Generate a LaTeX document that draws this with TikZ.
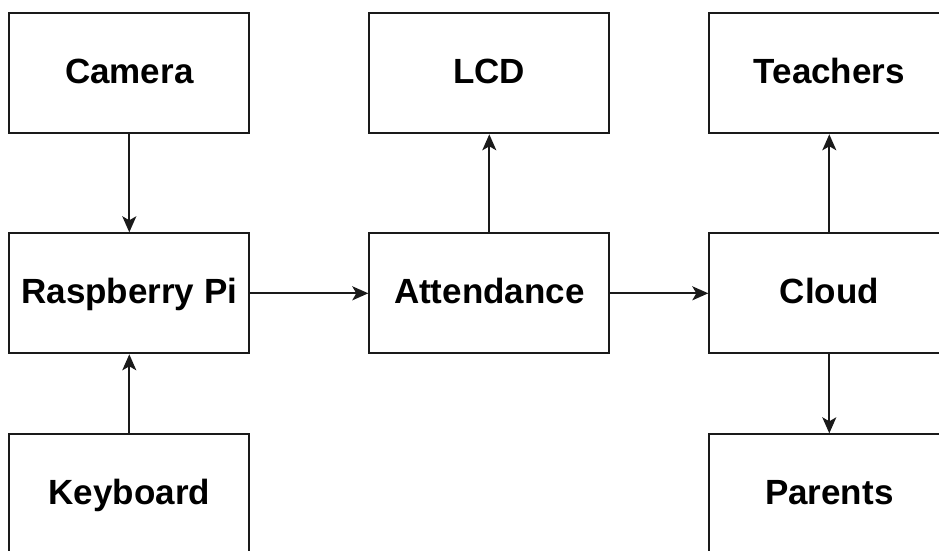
\documentclass[tikz,border=0pt]{standalone}
\usepackage{fontspec}
\setmainfont{Liberation Sans}
\usetikzlibrary{arrows.meta}
\definecolor{EdgeGrey}{HTML}{1A1A1A}

\begin{document}
\begin{tikzpicture}[
    x=1pt, y=-1pt,
    >={Stealth[length=16pt, width=14pt, inset=4pt]},
    every node/.style={font=\fontsize{35}{40}\selectfont\bfseries},
    unitbox/.style={draw=EdgeGrey, line width=2pt, minimum width=240pt, minimum height=120pt,
        inner sep=0pt, text height=25pt, text depth=4pt},
    link/.style={->, draw=EdgeGrey, line width=2pt}
]
\useasboundingbox (0,0) rectangle (939,551);
\clip (0,0) rectangle (939,551);
\node[unitbox] (cam) at (129.3,73.3) {Camera};
\node[unitbox] (rpi) at (129.3,293.3) {Raspberry Pi};
\node[unitbox] (kbd) at (129.3,494.3) {Keyboard};
\node[unitbox] (lcd) at (489.3,73.3) {LCD};
\node[unitbox] (att) at (489.3,293.3) {Attendance};
\node[unitbox] (tch) at (829.3,73.3) {Teachers};
\node[unitbox] (cld) at (829.3,293.3) {Cloud};
\node[unitbox] (par) at (829.3,494.3) {Parents};

\draw[link] (cam) -- (rpi);
\draw[link] (kbd) -- (rpi);
\draw[link] (rpi) -- (att);
\draw[link] (att) -- (lcd);
\draw[link] (att) -- (cld);
\draw[link] (cld) -- (tch);
\draw[link] (cld) -- (par);
\end{tikzpicture}
\end{document}
